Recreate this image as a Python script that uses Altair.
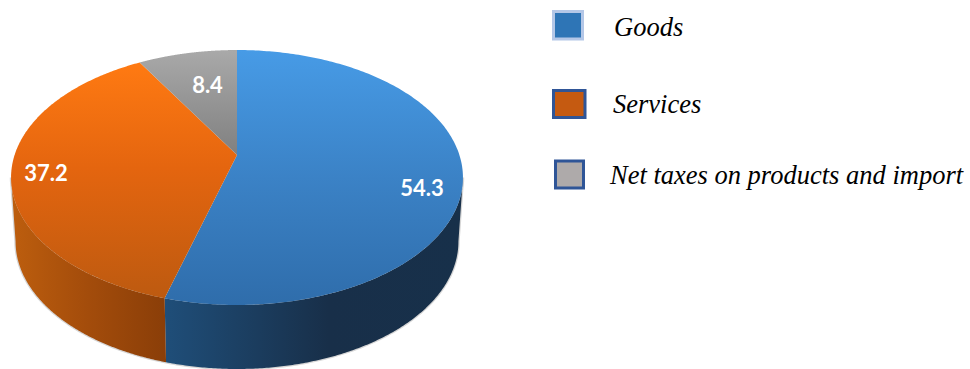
import numpy as np
import pandas as pd
import altair as alt

# Shares of value added, percent
sectors = ["Goods", "Services", "Net taxes on products and import"]
shares = [54.3, 37.2, 8.4]

WIDTH, HEIGHT = 970, 369

# Perspective model of the tilted disc
APEX_X, APEX_Y = 237.0, 155.0
RADIUS_X, RADIUS_Y = 222.4, 123.5
TILT = 0.1765
DEPTH = 64.0
BASE_SCALE = 0.98


def project(turn, scale=1.0, drop=0.0):
    """Map clockwise angles (radians from twelve o'clock) onto the tilted disc."""
    u, v = np.sin(turn), -np.cos(turn)
    w = 1 - TILT * v
    return APEX_X + scale * RADIUS_X * u / w, APEX_Y + drop + RADIUS_Y * v / w


def polygon(xs, ys):
    return pd.DataFrame({"x": xs, "y": ys, "i": np.arange(len(xs))})


def sector_face(start, end):
    turn = np.linspace(start, end, 240)
    x, y = project(turn)
    return polygon(np.r_[APEX_X, x], np.r_[APEX_Y, y])


def wall(start, end):
    turn = np.linspace(start, end, 200)
    x, y = project(turn)
    bx, by = project(turn[::-1], BASE_SCALE, DEPTH)
    return polygon(np.r_[x, bx], np.r_[y, by])


def vertical(*stops):
    return alt.Gradient(
        gradient="linear", x1=0, y1=0, x2=0, y2=1,
        stops=[alt.GradientStop(color=c, offset=o) for o, c in stops],
    )


def horizontal(*stops):
    return alt.Gradient(
        gradient="linear", x1=0, y1=0, x2=1, y2=0,
        stops=[alt.GradientStop(color=c, offset=o) for o, c in stops],
    )


x_scale = alt.Scale(domain=[0, WIDTH], range=[0, WIDTH], nice=False, zero=False)
y_scale = alt.Scale(domain=[0, HEIGHT], range=[0, HEIGHT], nice=False, zero=False)
X = alt.X("x:Q", scale=x_scale, axis=None)
Y = alt.Y("y:Q", scale=y_scale, axis=None)


def shape(frame, fill, **extra):
    style = dict(fill=fill, stroke=None, strokeWidth=0, interpolate="linear-closed", clip=False)
    style.update(extra)
    return alt.Chart(frame).mark_line(**style).encode(x=X, y=Y, order=alt.Order("i:Q"))


total = sum(shares)
edges = 2 * np.pi * np.cumsum([0] + shares) / total
rim_right = np.arccos(-TILT)
rim_left = 2 * np.pi - rim_right

soft_edge = wall(rim_right, rim_left)
layers = [
    # Faint halo under the side wall
    shape(soft_edge, "#8a8a8a", opacity=0.35, stroke="#8a8a8a", strokeWidth=2.5),
    shape(wall(rim_right, edges[1]), horizontal((0, "#1f4e79"), (0.55, "#182f49"), (1, "#17304a"))),
    shape(wall(edges[1], rim_left), horizontal((0, "#bd5e0e"), (0.5, "#a34c0b"), (1, "#8a3e08"))),
    shape(sector_face(edges[0], edges[1]), vertical((0, "#479be6"), (0.5, "#3b82c6"), (1, "#2f6dab"))),
    shape(sector_face(edges[1], edges[2]), vertical((0, "#ff7a12"), (0.45, "#e4650f"), (1, "#bd5a10"))),
    shape(sector_face(edges[2], edges[3]), vertical((0, "#a9a9a9"), (1, "#808080"))),
]

# Value labels on the pie faces
label_frame = pd.DataFrame({
    "x": [422.0, 46.0, 207.5],
    "y": [189.0, 174.0, 86.0],
    "label": [f"{v:.1f}" for v in shares],
})
layers.append(
    alt.Chart(label_frame)
    .mark_text(font="Lato", fontWeight="bold", fontSize=22, color="white", align="center", baseline="middle")
    .encode(x=X, y=Y, text="label:N")
)

# Hand-placed key to the right of the pie
key_frame = pd.DataFrame({
    "name": sectors,
    "x": [553.5, 553.5, 555.5],
    "x2": [582.5, 585.0, 583.5],
    "y": [11.5, 90.5, 161.0],
    "y2": [39.0, 117.5, 188.0],
    "fill": ["#2e75b6", "#c55a11", "#aeaaaa"],
    "stroke": ["#b4c7e7", "#2f5597", "#2f5597"],
    "tx": [614.0, 613.0, 610.0],
    "ty": [36.0, 113.0, 184.0],
})
layers.append(
    alt.Chart(key_frame)
    .mark_rect(strokeWidth=3)
    .encode(
        x=X, x2="x2:Q", y=Y, y2="y2:Q",
        fill=alt.Fill("fill:N", scale=None),
        stroke=alt.Stroke("stroke:N", scale=None),
    )
)
layers.append(
    alt.Chart(key_frame)
    .mark_text(font="Liberation Serif", fontStyle="italic", fontSize=26.5, color="#000000", align="left", baseline="alphabetic")
    .encode(x=alt.X("tx:Q", scale=x_scale, axis=None), y=alt.Y("ty:Q", scale=y_scale, axis=None), text="name:N")
)

chart = (
    alt.layer(*layers)
    .properties(width=WIDTH, height=HEIGHT, padding=0, autosize=alt.AutoSizeParams(type="none"), background="white")
    .configure_view(stroke=None)
)

chart.save("out.html", embed_options={"renderer": "svg", "actions": False})
